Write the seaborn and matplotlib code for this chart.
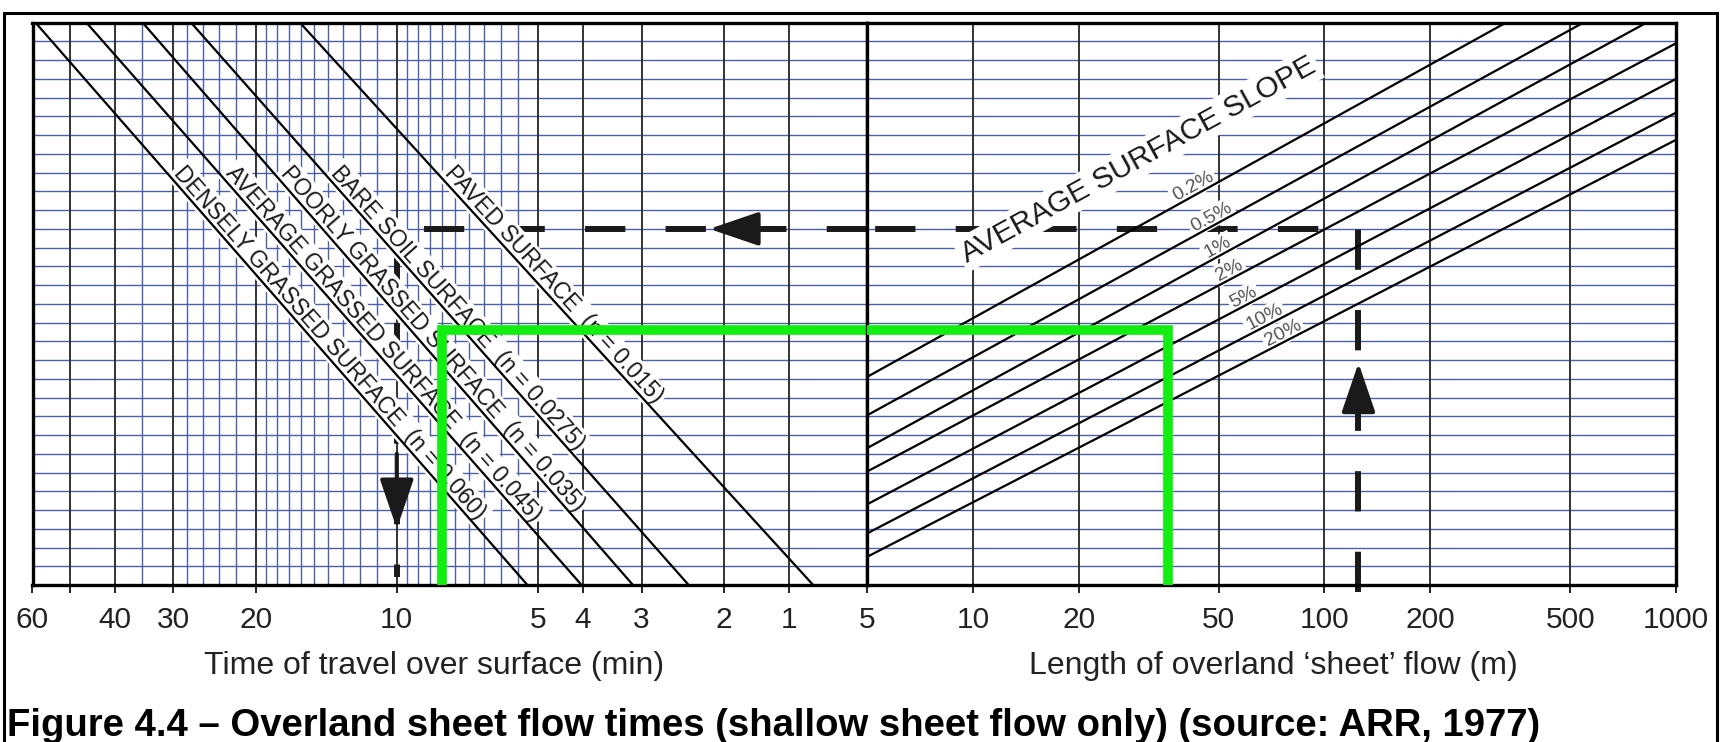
import numpy as np
import pandas as pd
import matplotlib
import matplotlib.pyplot as plt
import matplotlib.ticker as mticker
from matplotlib.patches import Rectangle
import seaborn as sns

matplotlib.use("Agg")

# surface lines, left half: time (min) where each line meets the top (level 30) and the bottom (level 0)
surface_names = ["DENSELY GRASSED SURFACE", "AVERAGE GRASSED SURFACE", "POORLY GRASSED SURFACE",
                 "BARE SOIL SURFACE", "PAVED SURFACE"]
surface_n = ["0.060", "0.045", "0.035", "0.0275", "0.015"]
time_top = [59.1, 46.0, 34.9, 27.5, 16.1]
time_bottom = [5.26, 4.03, 3.13, 2.38, 1.29]

# slope lines, right half: level at the 5 m edge, and where they leave the chart
slope_names = ["0.2%", "0.5%", "1%", "2%", "5%", "10%", "20%"]
slope_level_start = [11.1, 9.05, 7.3, 6.05, 4.3, 2.75, 1.5]
slope_length_end = [328, 545, 824, 1000, 1000, 1000, 1000]
slope_level_end = [30, 30, 30, 28.9, 27.0, 25.2, 23.75]
slope_label_length = [43.5, 48.9, 51, 55, 60.4, 69.2, 78.2]

# axes ticks and grid
time_ticks = [60, 50, 40, 30, 20, 10, 5, 4, 3, 2, 1.45]
time_tick_labels = ["60", "", "40", "30", "20", "10", "5", "4", "3", "2", "1"]
time_fine = [35, 28, 26, 24, 22, 19, 18, 17, 16, 15, 14, 13, 12, 11,
             9.5, 9, 8.5, 8, 7.5, 7, 6.5, 6, 5.5]
length_ticks = [5, 10, 20, 50, 100, 200, 500, 1000]
levels = list(range(1, 30))

# worked example (dashed path) and green highlight
example_length = 125
example_level = 19.0
example_time = 10
arrow_left = (2.15, 1.55)      # time: tip, tail
arrow_up = (11.85, 8.4)        # level: tip, tail
arrow_down = (3.0, 7.0)        # level: tip, tail
green_time = 8.0
green_length = 36
green_level = 13.6

sns.set_theme(style="white")
plt.rcParams["font.family"] = ["Liberation Sans", "DejaVu Sans"]
plt.rcParams["lines.scale_dashes"] = False

W, H = 1724, 742
fig = plt.figure(figsize=(W / 100, H / 100), dpi=100)
xa, xm, xb = 32.5, 867, 1676
ya, yb = 585, 22.7
ax1 = fig.add_axes([xa / W, 1 - ya / H, (xm - xa) / W, (ya - yb) / H])
ax2 = fig.add_axes([xm / W, 1 - ya / H, (xb - xm) / W, (ya - yb) / H])

for ax in (ax1, ax2):
    ax.set_xscale("log")
    ax.set_facecolor("white")

# surface lines
left_df = pd.DataFrame({
    "surface": surface_names * 2,
    "time": time_top + time_bottom,
    "level": [30] * len(time_top) + [0] * len(time_bottom),
})
sns.lineplot(data=left_df, x="time", y="level", units="surface", estimator=None, sort=False,
             color="black", lw=1.6, legend=False, ax=ax1, zorder=3)

# slope lines
right_df = pd.DataFrame({
    "slope": slope_names * 2,
    "length": [5] * len(slope_names) + slope_length_end,
    "level": slope_level_start + slope_level_end,
})
sns.lineplot(data=right_df, x="length", y="level", units="slope", estimator=None, sort=False,
             color="black", lw=1.6, legend=False, ax=ax2, zorder=3)

ax1.set_xlim(60, 0.99)
ax2.set_xlim(5, 1000)
for ax in (ax1, ax2):
    ax.set_ylim(0, 30)
    ax.set_yticks([])
    ax.set_xlabel("")
    ax.set_ylabel("")
    ax.xaxis.set_minor_locator(mticker.NullLocator())
    ax.tick_params(axis="x", which="major", direction="out", length=6, width=1.4,
                   color="#222222", labelsize=21.5, labelcolor="#222222", pad=9, bottom=True)
    for s in ax.spines.values():
        s.set_color("black")
        s.set_linewidth(2.4)
        s.set_zorder(4)

ax1.set_xticks(time_ticks, labels=time_tick_labels)
ax2.set_xticks(length_ticks, labels=[str(v) for v in length_ticks])

# grid
blue = "#4b5fab"
for ax in (ax1, ax2):
    for lv in levels:
        ax.axhline(lv, color=blue, lw=1.0, zorder=1)
for t in time_fine:
    ax1.axvline(t, color=blue, lw=1.0, zorder=1)
for t in time_ticks[1:]:
    ax1.axvline(t, color="#333333", lw=1.4, zorder=1.5)
for L in length_ticks[1:-1]:
    ax2.axvline(L, color="#333333", lw=1.4, zorder=1.5)


def screen_angle(ax, p, q):
    a = ax.transData.transform(p)
    b = ax.transData.transform(q)
    return np.degrees(np.arctan2(b[1] - a[1], b[0] - a[0]))


box = dict(boxstyle="square,pad=0.12", fc="white", ec="none")

# labels along surface lines
start_level = 21.8
for name, n, tt, tb in zip(surface_names, surface_n, time_top, time_bottom):
    ang = screen_angle(ax1, (tt, 30), (tb, 0))
    t = 10 ** (np.log10(tt) + (np.log10(tb) - np.log10(tt)) * (30 - start_level) / 30)
    nx, ny = -np.sin(np.radians(ang)), np.cos(np.radians(ang))
    ax1.annotate(f"{name}  (n = {n})", xy=(t, start_level), xytext=(3 * nx, 3 * ny),
                 textcoords="offset points", rotation=ang, rotation_mode="anchor",
                 ha="left", va="baseline", fontsize=16.5, color="#1a1a1a", zorder=2, bbox=box)

# labels on slope lines
for name, ys, Le, ye, Lp in zip(slope_names, slope_level_start, slope_length_end,
                                slope_level_end, slope_label_length):
    ang = screen_angle(ax2, (5, ys), (Le, ye))
    lv = ys + (ye - ys) * np.log10(Lp / 5) / np.log10(Le / 5)
    nx, ny = -np.sin(np.radians(ang)), np.cos(np.radians(ang))
    ax2.annotate(name, xy=(Lp, lv), xytext=(6 * nx, 6 * ny), textcoords="offset points",
                 rotation=ang, rotation_mode="anchor", ha="center", va="center",
                 fontsize=14, color="#555555", zorder=2, bbox=box)

ang = screen_angle(ax2, (5, slope_level_start[1]), (slope_length_end[1], slope_level_end[1]))
ax2.text(29.5, 22.7, "AVERAGE SURFACE SLOPE", rotation=ang, rotation_mode="anchor",
         ha="center", va="center", fontsize=21.5, color="#1a1a1a", zorder=2, bbox=box)

# worked example, dashed
dash_kw = dict(color="#1a1a1a", lw=4.3, dashes=(29, 29), zorder=1.8)
ax2.plot([example_length, example_length, 5], [-0.4, example_level, example_level],
         clip_on=False, **dash_kw)
ax1.plot([0.99, example_time, example_time], [example_level, example_level, 0.45], **dash_kw)

arrow_kw = dict(arrowstyle="-|>,head_length=2.2,head_width=0.75", mutation_scale=14,
                color="#1a1a1a", lw=3, shrinkA=0, shrinkB=0)
ax1.annotate("", xy=(arrow_left[0], example_level), xytext=(arrow_left[1], example_level),
             arrowprops=arrow_kw, zorder=1.9)
ax2.annotate("", xy=(example_length, arrow_up[0]), xytext=(example_length, arrow_up[1]),
             arrowprops=arrow_kw, zorder=1.9)
ax1.annotate("", xy=(example_time, arrow_down[0]), xytext=(example_time, arrow_down[1]),
             arrowprops=arrow_kw, zorder=1.9)

# green highlight
green_kw = dict(color="#12ee12", lw=7, zorder=6, solid_joinstyle="miter", solid_capstyle="butt")
ax1.plot([green_time, green_time, 0.99], [0, green_level, green_level], clip_on=False, **green_kw)
ax2.plot([5, green_length, green_length], [green_level, green_level, 0], clip_on=False, **green_kw)

# axis titles and caption
fig.text(434 / W, 1 - 666 / H, "Time of travel over surface (min)", ha="center", va="center",
         fontsize=23, color="#222222")
fig.text(1273 / W, 1 - 666 / H, "Length of overland \u2018sheet\u2019 flow (m)", ha="center",
         va="center", fontsize=23, color="#222222")
fig.text(7 / W, 1 - 736 / H,
         "Figure 4.4 \u2013 Overland sheet flow times (shallow sheet flow only) (source: ARR, 1977)",
         ha="left", va="baseline", fontsize=27.5, fontweight="bold", color="black")

# outer frame
fig.add_artist(Rectangle((4 / W, -0.1), (1717 - 4) / W, 1.1 - 13 / H, transform=fig.transFigure,
                         fill=False, ec="black", lw=2.2, clip_on=False))

fig.savefig("out.png", dpi=100)
